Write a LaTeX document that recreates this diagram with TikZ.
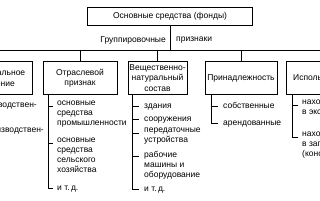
\documentclass[tikz,border=0pt]{standalone}
\usepackage{fontspec}
\setmainfont{Liberation Sans}
\begin{document}
\begin{tikzpicture}[x=1pt,y=-1pt,
  kbox/.style={draw, line width=0.8pt, minimum height=33pt, align=center, inner sep=1pt, font=\fontsize{8.5}{10.5}\selectfont},
  entry/.style={anchor=north west, align=left, inner sep=0pt, font=\fontsize{8.5}{10}\selectfont, execute at begin node=\strut},
  lbl/.style={inner sep=0pt, font=\fontsize{8.5}{10}\selectfont}]
\useasboundingbox (0,0) rectangle (320,200);
\clip (0,0) rectangle (320,200);
% top of the tree
\node[kbox, minimum width=165pt, minimum height=18pt] (osn) at (170,16) {Основные средства (фонды)};
\coordinate (busL) at (-20,50);
\coordinate (busR) at (340,50);
\node[lbl, anchor=east] (grp) at (166,40) {Группировочные};
\node[lbl, anchor=west] (prz) at (176,40) {признаки};
\draw[line width=0.6pt] (osn.south) -- (osn.south |- busL);
\draw[line width=0.6pt] (busL) -- (busR);
% groups
\node[kbox, minimum width=80pt] (b1) at (-8,78) {Функциональное\\назначение};
\node[kbox, minimum width=74pt] (b2) at (80,78) {Отраслевой\\признак};
\node[kbox, minimum width=59pt] (b3) at (157.5,78) {Вещественно-\\натуральный\\состав};
\node[kbox, minimum width=72pt] (b4) at (241,78) {Принадлежность};
\node[kbox, minimum width=75pt] (b5) at (323.5,78) {Использование};
\draw[line width=0.6pt] (b1.north |- busL) -- (b1.north);
\draw[line width=0.6pt] (b2.north |- busL) -- (b2.north);
\draw[line width=0.6pt] (b3.north |- busL) -- (b3.north);
\draw[line width=0.6pt] (b4.north |- busL) -- (b4.north);
\draw[line width=0.6pt] (b5.north |- busL) -- (b5.north);
\coordinate (v1) at ([xshift=6pt]b1.south west);
\coordinate (v2) at ([xshift=6pt]b2.south west);
\coordinate (v3) at ([xshift=5pt]b3.south west);
\coordinate (v4) at ([xshift=7pt]b4.south west);
\coordinate (v5) at ([xshift=7pt]b5.south west);
% entries
\node[entry, anchor=north east] (i1a) at (37,103) {производствен-\\ные};
\node[entry, anchor=north east] (i1b) at (44,128) {непроизводствен-\\ные};
\node[entry] (i2a) at (57,101) {основные\\средства\\промышленности};
\node[entry] (i2b) at (57,138) {основные\\средства\\сельского\\хозяйства};
\node[entry] (i2c) at (57,183) {и т.\,д.};
\node[entry] (i3a) at (144,101) {здания};
\node[entry] (i3b) at (144,114) {сооружения};
\node[entry] (i3c) at (144,128) {передаточные\\устройства};
\node[entry] (i3d) at (144,151) {рабочие\\машины и\\оборудование};
\node[entry] (i3e) at (144,184) {и т.\,д.};
\node[entry] (i4a) at (223,101) {собственные};
\node[entry] (i4b) at (223,118) {арендованные};
\node[entry] (i5a) at (302,100) {находящиеся\\в эксплуатации};
\node[entry] (i5b) at (302,132) {находящиеся\\в запасе\\(консервации)};
\coordinate (t1a) at ([shift={(-4,5)}]i1a.north west);
\coordinate (t1b) at ([shift={(-4,5)}]i1b.north west);
\coordinate (t2a) at ([shift={(-4,5)}]i2a.north west);
\coordinate (t2b) at ([shift={(-4,5)}]i2b.north west);
\coordinate (t2c) at ([shift={(-4,5)}]i2c.north west);
\coordinate (t3a) at ([shift={(-5,5)}]i3a.north west);
\coordinate (t3b) at ([shift={(-5,5)}]i3b.north west);
\coordinate (t3c) at ([shift={(-5,5)}]i3c.north west);
\coordinate (t3d) at ([shift={(-5,5)}]i3d.north west);
\coordinate (t3e) at ([shift={(-5,5)}]i3e.north west);
\coordinate (t4a) at ([shift={(-5,5)}]i4a.north west);
\coordinate (t4b) at ([shift={(-5,5)}]i4b.north west);
\coordinate (t5a) at ([shift={(-4,5)}]i5a.north west);
\coordinate (t5b) at ([shift={(-4,5)}]i5b.north west);
% connectors
\draw[line width=0.6pt] (v1) |- (t1b);
\draw[line width=0.6pt] (v1 |- t1a) -- (t1a);
\draw[line width=0.6pt] (v2) |- (t2c);
\draw[line width=0.6pt] (v2 |- t2a) -- (t2a);
\draw[line width=0.6pt] (v2 |- t2b) -- (t2b);
\draw[line width=0.6pt] (v3) |- (t3e);
\draw[line width=0.6pt] (v3 |- t3a) -- (t3a);
\draw[line width=0.6pt] (v3 |- t3b) -- (t3b);
\draw[line width=0.6pt] (v3 |- t3c) -- (t3c);
\draw[line width=0.6pt] (v3 |- t3d) -- (t3d);
\draw[line width=0.6pt] (v4) |- (t4b);
\draw[line width=0.6pt] (v4 |- t4a) -- (t4a);
\draw[line width=0.6pt] (v5) |- (t5b);
\draw[line width=0.6pt] (v5 |- t5a) -- (t5a);
\end{tikzpicture}
\end{document}
